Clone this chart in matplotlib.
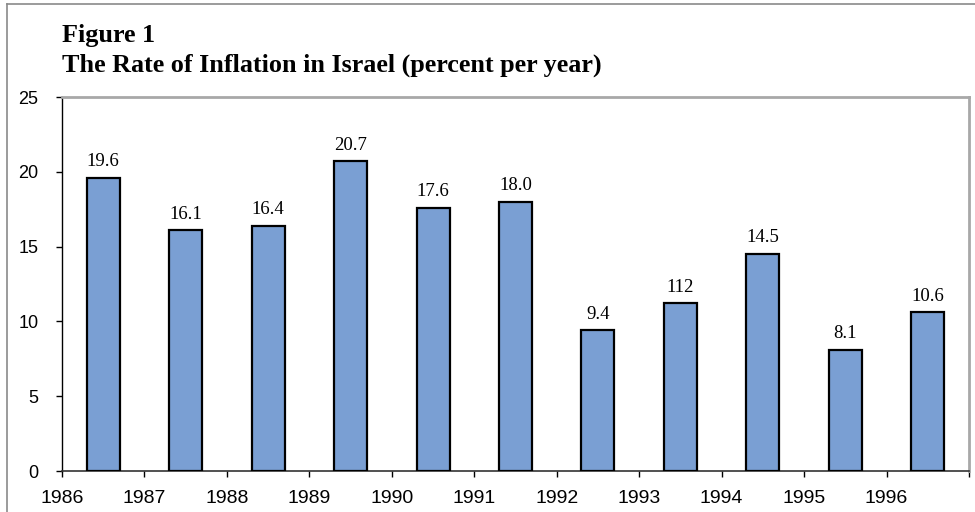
import matplotlib
matplotlib.use("Agg")
import matplotlib.pyplot as plt
from matplotlib.lines import Line2D

# Data
years = [1986, 1987, 1988, 1989, 1990, 1991, 1992, 1993, 1994, 1995, 1996]
inflation = [19.6, 16.1, 16.4, 20.7, 17.6, 18.0, 9.4, 11.2, 14.5, 8.1, 10.6]
bar_labels = ["19.6", "16.1", "16.4", "20.7", "17.6", "18.0", "9.4", "112", "14.5", "8.1", "10.6"]
xtick_years = [1986, 1987, 1988, 1989, 1990, 1991, 1992, 1993, 1994, 1995, 1996]
yticks = [0, 5, 10, 15, 20, 25]

BAR_COLOR = "#7a9fd3"
SERIF = ["Liberation Serif", "DejaVu Serif"]
SANS = ["Liberation Sans", "DejaVu Sans"]

fig = plt.figure(figsize=(9.75, 5.12), dpi=100)
ax = fig.add_axes([62 / 975, 1 - 471 / 512, (969 - 62) / 975, (471 - 97) / 512])

# bars sit in the middle of each year
centers = [y + 0.5 for y in years]
ax.bar(centers, inflation, width=0.4, color=BAR_COLOR, edgecolor="black", linewidth=1.6, zorder=3)

for x, v, lab in zip(centers, inflation, bar_labels):
    ax.annotate(lab, (x, v), xytext=(0, 5.5), textcoords="offset points",
                ha="center", va="bottom", fontsize=13.5, family=SERIF)

ax.set_xlim(1986, 1997)
ax.set_ylim(0, 25)
ax.set_xticks(xtick_years + [1997])
ax.set_xticklabels([str(y) for y in xtick_years] + [""])
ax.set_yticks(yticks)

for lab in ax.get_xticklabels() + ax.get_yticklabels():
    lab.set_fontfamily(SANS)
ax.tick_params(axis="x", direction="out", length=4, width=1, pad=10, labelsize=14)
ax.tick_params(axis="y", direction="out", length=4, width=1, pad=13, labelsize=13)

ax.spines["left"].set_color("black")
ax.spines["left"].set_linewidth(1)
ax.spines["bottom"].set_color("#333333")
ax.spines["bottom"].set_linewidth(1.2)
for side in ["top", "right"]:
    ax.spines[side].set_color("#a8a8a8")
    ax.spines[side].set_linewidth(2)

# titles
fig.text(62 / 975, 1 - 42 / 512, "Figure 1", fontsize=18.8, fontweight="bold",
         family=SERIF, ha="left", va="baseline")
fig.text(62 / 975, 1 - 72 / 512, "The Rate of Inflation in Israel (percent per year)",
         fontsize=18.8, fontweight="bold", family=SERIF, ha="left", va="baseline")

# figure frame (left and top edges visible)
fig.add_artist(Line2D([7 / 975, 7 / 975], [0, 1 - 4 / 512], transform=fig.transFigure,
                      color="#8a8a8a", linewidth=1.2))
fig.add_artist(Line2D([7 / 975, 1], [1 - 4 / 512, 1 - 4 / 512], transform=fig.transFigure,
                      color="#8a8a8a", linewidth=1.2))

fig.savefig("out.png", dpi=100)
